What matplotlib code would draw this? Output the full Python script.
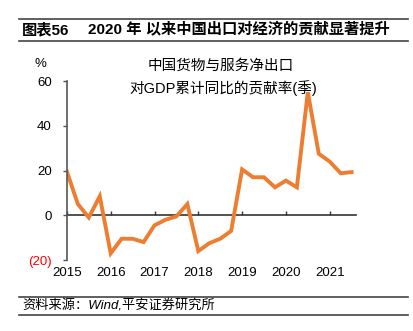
import matplotlib.pyplot as plt
from matplotlib.lines import Line2D

plt.rcParams['font.family'] = ['Liberation Sans', 'Noto Sans CJK SC']

# quarterly net exports contribution to GDP, 2015Q1 - 2021Q3
values = [19.5, 5, -1, 8.5, -17, -10.5, -10.5, -12, -4.5, -2, -0.5, 5,
          -16, -12.5, -10.5, -7, 20.5, 17, 17, 12.5, 15.5, 12.5, 55,
          27.5, 24, 18.8, 19.3]
years = ['2015', '2016', '2017', '2018', '2019', '2020', '2021']
yticks = [60, 40, 20, 0, -20]
ytick_labels = ['60', '40', '20', '0', '(20)']

fig = plt.figure(figsize=(4.13, 3.31), dpi=100)
ax = fig.add_axes([0.162, 0.2145, 0.70, 0.5405])

x = list(range(len(values)))
ax.plot(x, values, color='#ED7D31', lw=2.8, solid_joinstyle='miter')

ax.set_xlim(0, 26.4)
ax.set_ylim(-20, 60)

for s in ['top', 'right', 'bottom']:
    ax.spines[s].set_visible(False)
ax.spines['left'].set_color('#555555')
ax.spines['left'].set_linewidth(1.2)

ax.set_yticks(yticks)
ax.set_yticklabels(ytick_labels)
ax.tick_params(axis='y', direction='out', length=3, width=1, color='#555555',
               labelsize=9.5, pad=8)
ax.get_yticklabels()[-1].set_color('red')

ax.set_xticks(range(0, 4 * len(years), 4))
ax.set_xticklabels(years)
ax.tick_params(axis='x', length=0, labelsize=9.5, pad=5)

# zero line with year ticks pointing up
zero = ax.secondary_xaxis(0.25)
zero.set_xticks(range(0, 4 * len(years), 4))
zero.tick_params(axis='x', direction='in', length=3, width=1,
                 color='#333333', labelbottom=False)
zero.spines['bottom'].set_color('#333333')
zero.spines['bottom'].set_linewidth(1.2)

fig.text(0.097, 0.807, '%', fontsize=9.5, ha='center', va='center')
fig.text(0.535, 0.80, '中国货物与服务净出口', fontsize=10.5, ha='center', va='center')
fig.text(0.54, 0.735, '对GDP累计同比的贡献率(季)', fontsize=10.5, ha='center', va='center')

# header and footer
fig.add_artist(Line2D([0.046, 0.988], [0.944, 0.944], color='#444444', lw=1.2))
fig.add_artist(Line2D([0.046, 0.988], [0.876, 0.876], color='#444444', lw=1.2))
fig.text(0.053, 0.91, '图表56', fontsize=11, fontweight='bold', va='center')
fig.text(0.213, 0.91, '2020 年 以来中国出口对经济的贡献显著提升', fontsize=11,
         fontweight='bold', va='center')

fig.add_artist(Line2D([0.046, 0.988], [0.103, 0.103], color='#444444', lw=1.2))
fig.add_artist(Line2D([0.046, 0.988], [0.048, 0.048], color='#444444', lw=1.2))
fig.text(0.055, 0.075, '资料来源：Wind,平安证券研究所', fontsize=9.5,
         style='italic', va='center')

fig.savefig('out.png', dpi=100)
